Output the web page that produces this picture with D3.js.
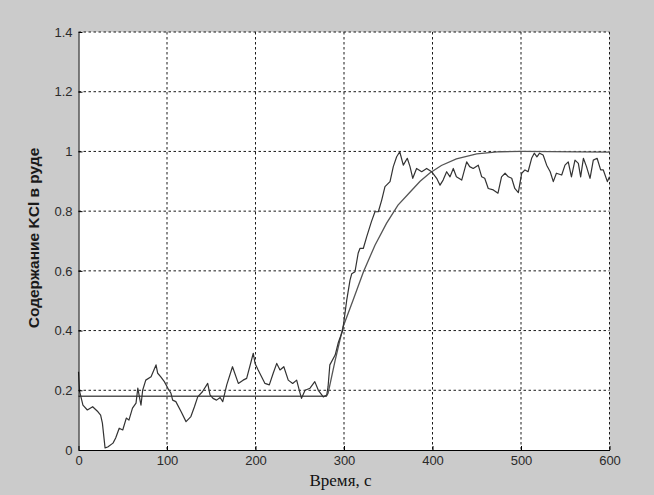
<!DOCTYPE html>
<html>
<head>
<meta charset="utf-8">
<script src="https://cdn.jsdelivr.net/npm/d3@7/dist/d3.min.js"></script>
<style>
  body { margin: 0; background: #cbcbcb; }
  .axis path, .axis line { stroke: #000; }
  .axis text { font-family: "Liberation Sans", Arial, sans-serif; font-size: 13px; fill: #2a2a2a; }
  .grid line { stroke: #1a1a1a; stroke-dasharray: 2.5,2.5; }
</style>
</head>
<body>
<div class="chart"></div>
<script>
// time axis ticks and value axis ticks
const xTicks = [0, 100, 200, 300, 400, 500, 600];
const yTicks = [0, 0.2, 0.4, 0.6, 0.8, 1, 1.2, 1.4];

// measured KCl content (noisy signal)
const measuredTime = [0, 1, 5, 10, 16, 22, 25, 27, 30, 33, 39, 42, 46, 50, 54, 57, 61, 65, 67, 69.5,
  70.6, 72.5, 76, 82, 87.6, 89.5, 93, 97, 101, 104.5, 106.4, 110, 116, 121.5, 127, 131, 134.7, 140, 146, 148.6,
  152, 156, 160, 163, 167.5, 174, 180.6, 186, 190, 197.5, 199.5, 203, 210.7, 215.6, 220, 224, 227.7, 232, 237, 242,
  246.5, 249.5, 252, 256, 261.6, 267, 271, 276.6, 280.5, 282, 284, 290, 293.6, 298.5, 303, 306.8, 308.7, 312.4, 316, 318,
  321.8, 325.6, 331, 335, 338.8, 342.6, 346.3, 352, 355.7, 359.5, 363, 367, 371.5, 374.6, 377.7, 382, 387.8, 393.4, 399, 404.7,
  408.5, 412, 416, 419.8, 423.5, 427, 433, 438.6, 442, 446, 451.7, 455.6, 459, 463, 468.7, 474, 478, 482,
  485.7, 489.5, 493, 497, 500.8, 504.5, 508, 512, 515, 518, 521, 525, 529, 533, 536.5, 540, 546, 549.7,
  553.4, 557, 561, 564.8, 567.4, 570.5, 574, 578, 581.7, 586, 590, 593, 597.6, 600];
const measuredValue = [0.262, 0.2, 0.15, 0.134, 0.145, 0.128, 0.117, 0.09, 0.007, 0.01, 0.023, 0.04, 0.073, 0.067, 0.107, 0.1, 0.14, 0.157, 0.207, 0.167,
  0.15, 0.2, 0.234, 0.245, 0.285, 0.257, 0.245, 0.229, 0.207, 0.19, 0.167, 0.162, 0.128, 0.095, 0.112, 0.145, 0.178, 0.195, 0.223, 0.185,
  0.173, 0.167, 0.176, 0.162, 0.218, 0.279, 0.223, 0.234, 0.24, 0.324, 0.29, 0.268, 0.223, 0.218, 0.257, 0.29, 0.268, 0.279, 0.234, 0.223,
  0.234, 0.2, 0.173, 0.2, 0.207, 0.229, 0.2, 0.178, 0.184, 0.212, 0.285, 0.318, 0.36, 0.4, 0.5, 0.569, 0.59, 0.597, 0.659, 0.675,
  0.675, 0.714, 0.765, 0.798, 0.798, 0.837, 0.882, 0.899, 0.949, 0.982, 0.999, 0.954, 0.977, 0.949, 0.91, 0.943, 0.932, 0.943, 0.932, 0.91,
  0.887, 0.904, 0.932, 0.915, 0.943, 0.915, 0.904, 0.965, 0.949, 0.943, 0.954, 0.915, 0.91, 0.876, 0.871, 0.86, 0.915, 0.927,
  0.915, 0.91, 0.876, 0.862, 0.927, 0.938, 0.932, 0.977, 0.994, 0.982, 0.994, 0.988, 0.954, 0.932, 0.899, 0.927, 0.921, 0.954,
  0.965, 0.915, 0.971, 0.96, 0.915, 0.977, 0.949, 0.91, 0.971, 0.977, 0.938, 0.938, 0.899, 0.915];

// model response (smooth curve)
const modelTime = [0, 280, 282, 286, 290, 299, 310, 322, 335, 348, 361, 375, 386, 397, 410, 427, 450, 476, 500, 600];
const modelValue = [0.18, 0.18, 0.19, 0.245, 0.3, 0.413, 0.5, 0.597, 0.686, 0.759, 0.82, 0.865, 0.9, 0.928, 0.953, 0.975, 0.992, 0.999, 1.0, 0.998];

const margin = {top: 32, right: 44.5, bottom: 45, left: 78.5};
const fullWidth = 654;
const fullHeight = 495;
const width = fullWidth - margin.left - margin.right;
const height = fullHeight - margin.top - margin.bottom;

const xScale = d3.scaleLinear().domain([0, 600]).range([0, width]);
const yScale = d3.scaleLinear().domain([0, 1.4]).range([height, 0]);

const svg = d3.select('.chart').append('svg')
    .attr('width', fullWidth)
    .attr('height', fullHeight)
  .append('g')
    .attr('transform', `translate(${margin.left},${margin.top})`);

svg.append('rect')
  .attr('width', width)
  .attr('height', height)
  .attr('fill', '#fff');

// dotted grid
const grid = svg.append('g').attr('class', 'grid');
grid.selectAll('.gx')
  .data(xTicks.filter(d => d > 0))
  .enter().append('line')
    .attr('x1', d => xScale(d)).attr('x2', d => xScale(d))
    .attr('y1', 0).attr('y2', height);
grid.selectAll('.gy')
  .data(yTicks.filter(d => d > 0))
  .enter().append('line')
    .attr('x1', 0).attr('x2', width)
    .attr('y1', d => yScale(d)).attr('y2', d => yScale(d));

const line = d3.line()
  .x(d => xScale(d[0]))
  .y(d => yScale(d[1]));

svg.append('path')
  .datum(modelTime.map((t, i) => [t, modelValue[i]]))
  .attr('d', line)
  .attr('fill', 'none')
  .attr('stroke', '#555')
  .attr('stroke-width', 1.3);

svg.append('path')
  .datum(measuredTime.map((t, i) => [t, measuredValue[i]]))
  .attr('d', line)
  .attr('fill', 'none')
  .attr('stroke', '#333')
  .attr('stroke-width', 1.2)
  .attr('stroke-linejoin', 'round');

// axes, ticks pointing inward like the original
svg.append('g')
  .attr('class', 'axis axis--x')
  .attr('transform', `translate(0,${height})`)
  .call(d3.axisBottom(xScale).tickValues(xTicks).tickFormat(d3.format('d'))
    .tickSizeInner(-4).tickSizeOuter(0).tickPadding(6));

svg.append('g')
  .attr('class', 'axis axis--y')
  .call(d3.axisLeft(yScale).tickValues(yTicks).tickFormat(d => d3.format('')(+d.toFixed(1)))
    .tickSizeInner(-4).tickSizeOuter(0).tickPadding(6));

svg.append('text')
  .attr('x', 262)
  .attr('y', height + 36)
  .attr('text-anchor', 'middle')
  .attr('font-family', '"Liberation Serif", "Times New Roman", serif')
  .attr('font-size', 17)
  .attr('fill', '#111')
  .text('Время, с');

svg.append('text')
  .attr('transform', `translate(${33 - margin.left + 6},${238 - margin.top}) rotate(-90)`)
  .attr('text-anchor', 'middle')
  .attr('font-family', '"Liberation Sans", Arial, sans-serif')
  .attr('font-size', 15.5)
  .attr('font-weight', 'bold')
  .attr('fill', '#1a1a1a')
  .text('Содержание KCl в руде');
</script>
</body>
</html>
